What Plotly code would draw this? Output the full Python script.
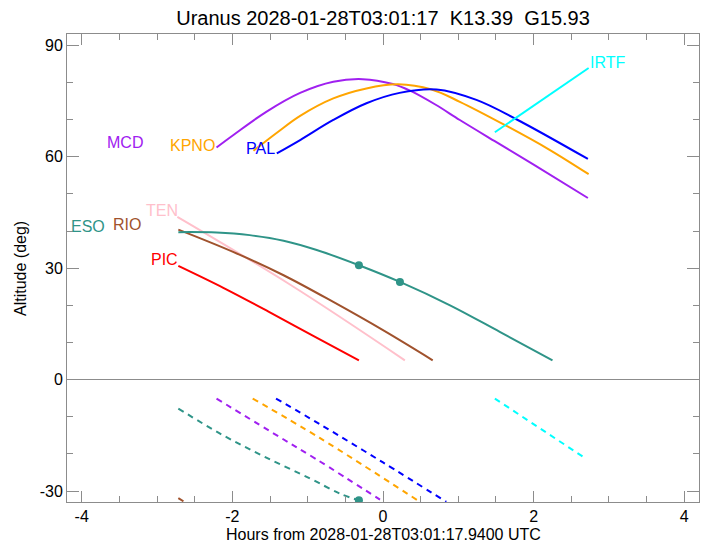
import plotly.graph_objects as go

# ---------------- data (hours from reference time, altitude deg) ----------------
title_text = "Uranus 2028-01-28T03:01:17  K13.39  G15.93"
x_title = "Hours from 2028-01-28T03:01:17.9400 UTC"
y_title = "Altitude (deg)"

sites = ["MCD", "KPNO", "PAL", "IRTF", "TEN", "RIO", "ESO", "PIC"]
colors = {"MCD": "#a020f0", "KPNO": "#ffa500", "PAL": "#0000ff", "IRTF": "#00ffff",
          "TEN": "#ffc0cb", "RIO": "#a0522d", "ESO": "#2f9488", "PIC": "#ff0000"}

# planet altitude (solid)
mcd_h = [-2.21, -1.99, -1.55, -1.10, -0.66, -0.27, 0.13, 0.36, 0.70, 1.02, 1.50, 2.00, 2.72]
mcd_alt = [62.5, 65.8, 72.1, 77.2, 80.2, 80.9, 79.6, 77.8, 74.0, 69.9, 64.0, 57.9, 48.9]
kpno_h = [-1.72, -1.40, -1.10, -0.66, -0.22, 0.20, 0.645, 1.02, 1.64, 2.20, 2.73]
kpno_alt = [61.6, 66.6, 71.0, 75.7, 78.4, 79.5, 78.1, 74.8, 68.3, 62.0, 55.3]
pal_h = [-1.41, -1.10, -0.66, -0.22, 0.22, 0.71, 1.24, 1.77, 2.72]
pal_alt = [60.9, 64.5, 69.9, 74.4, 77.2, 78.1, 75.3, 70.1, 59.4]
irtf_h = [1.485, 2.73]
irtf_alt = [66.6, 83.9]
ten_h = [-2.73, -1.22, 0.29]
ten_alt = [43.8, 25.4, 5.2]
rio_h = [-2.717, -1.99, -1.32, -0.66, 0.00, 0.66]
rio_alt = [40.4, 34.4, 28.1, 20.9, 13.3, 5.2]
eso_h = [-2.717, -2.21, -1.77, -1.32, -0.88, -0.32, 0.225, 0.89, 1.55, 2.25]
eso_alt = [39.7, 39.6, 38.9, 37.4, 34.9, 30.8, 26.3, 20.0, 12.85, 5.2]
pic_h = [-2.717, -2.12, -1.52, -0.92, -0.32]
pic_alt = [30.6, 24.7, 18.3, 11.7, 5.2]

# second object (dashed)
mcd_h2 = [-2.21, -1.50, -0.88, -0.04]
mcd_alt2 = [-5.1, -13.9, -21.5, -32.3]
kpno_h2 = [-1.73, -0.84, 0.49]
kpno_alt2 = [-5.1, -15.7, -32.9]
pal_h2 = [-1.42, -0.83, 0.00, 0.84]
pal_alt2 = [-5.1, -12.1, -22.3, -32.9]
irtf_h2 = [1.485, 2.68]
irtf_alt2 = [-5.1, -21.1]
eso_h2 = [-2.717, -2.14, -1.57, -0.97, -0.57, -0.32]
eso_alt2 = [-7.8, -14.8, -20.8, -26.6, -30.7, -32.5]
rio_h2 = [-2.717, -2.55]
rio_alt2 = [-31.9, -34.0]

# markers on ESO
eso_mark_h = [-0.32, 0.225, -0.32]
eso_mark_alt = [30.8, 26.3, -32.5]

# label positions
label_h = [-3.425, -2.53, -1.63, 2.98, -2.94, -3.40, -3.92, -2.90]
label_alt = [63.95, 63.1, 62.3, 85.4, 45.4, 41.8, 41.2, 32.3]

x_ticks = [-4, -2, 0, 2, 4]
x_ticktext = ["-4", "-2", "0", "2", "4"]
y_ticks = [-30, 0, 30, 60, 90]
y_ticktext = ["-30", "0", "30", "60", "90"]

# ---------------- figure ----------------
fig = go.Figure()

solid = [("MCD", mcd_h, mcd_alt), ("KPNO", kpno_h, kpno_alt), ("PAL", pal_h, pal_alt),
         ("IRTF", irtf_h, irtf_alt), ("TEN", ten_h, ten_alt), ("RIO", rio_h, rio_alt),
         ("ESO", eso_h, eso_alt), ("PIC", pic_h, pic_alt)]
for name, hx, ay in solid:
    fig.add_trace(go.Scatter(x=hx, y=ay, mode="lines", name=name,
                             line=dict(color=colors[name], width=2, shape="spline", smoothing=1.0),
                             showlegend=False))

dashed = [("MCD", mcd_h2, mcd_alt2), ("KPNO", kpno_h2, kpno_alt2), ("PAL", pal_h2, pal_alt2),
          ("IRTF", irtf_h2, irtf_alt2), ("ESO", eso_h2, eso_alt2), ("RIO", rio_h2, rio_alt2)]
for name, hx, ay in dashed:
    fig.add_trace(go.Scatter(x=hx, y=ay, mode="lines",
                             line=dict(color=colors[name], width=2, dash="6px,5px",
                                       shape="spline", smoothing=1.0),
                             showlegend=False))

fig.add_trace(go.Scatter(x=eso_mark_h, y=eso_mark_alt, mode="markers",
                         marker=dict(color=colors["ESO"], size=8), showlegend=False,
                         cliponaxis=True))

for name, hx, ay in zip(sites, label_h, label_alt):
    fig.add_annotation(x=hx, y=ay, text=name, showarrow=False,
                       font=dict(color=colors[name], size=16, family="Liberation Sans"),
                       xanchor="center", yanchor="middle")

axis_col = "#8c8c8c"
fig.update_xaxes(range=[-4.195, 4.195], tickvals=x_ticks, ticktext=x_ticktext,
                 ticks="inside", ticklen=11,
                 tickcolor=axis_col, showline=True, linecolor=axis_col, mirror="allticks",
                 showgrid=False, zeroline=False,
                 minor=dict(dtick=0.5, ticks="inside", ticklen=6, tickcolor=axis_col, showgrid=False),
                 tickfont=dict(size=16, color="black"))
fig.update_yaxes(range=[-32.95, 93.05], tickvals=y_ticks, ticktext=y_ticktext,
                 ticks="inside", ticklen=12,
                 tickcolor=axis_col, showline=True, linecolor=axis_col, mirror="allticks",
                 showgrid=False, zeroline=True, zerolinecolor=axis_col, zerolinewidth=1,
                 minor=dict(dtick=10, ticks="inside", ticklen=6, tickcolor=axis_col, showgrid=False),
                 tickfont=dict(size=16, color="black"))

fig.add_annotation(xref="paper", yref="paper", x=0.5, y=-0.0705, text=x_title, showarrow=False,
                   font=dict(size=16, color="black"), xanchor="center", yanchor="middle")
fig.add_annotation(xref="paper", yref="paper", x=-0.0744, y=0.5, text=y_title, showarrow=False,
                   textangle=-90, font=dict(size=16, color="black"), xanchor="center", yanchor="middle")

# page body adds an 8px offset; figure sized so the plot area lands where the reference has it
fig.update_layout(
    width=700, height=538,
    margin=dict(l=59, r=9, t=26, b=44),
    paper_bgcolor="white", plot_bgcolor="white",
    font=dict(family="Liberation Sans", size=16, color="black"),
    title=dict(text=title_text, x=0.5, xref="paper", y=1 - 9.5 / 538, yref="container",
               xanchor="center", yanchor="middle", font=dict(size=20, color="black")),
    showlegend=False,
)

fig.write_html("out.html")
